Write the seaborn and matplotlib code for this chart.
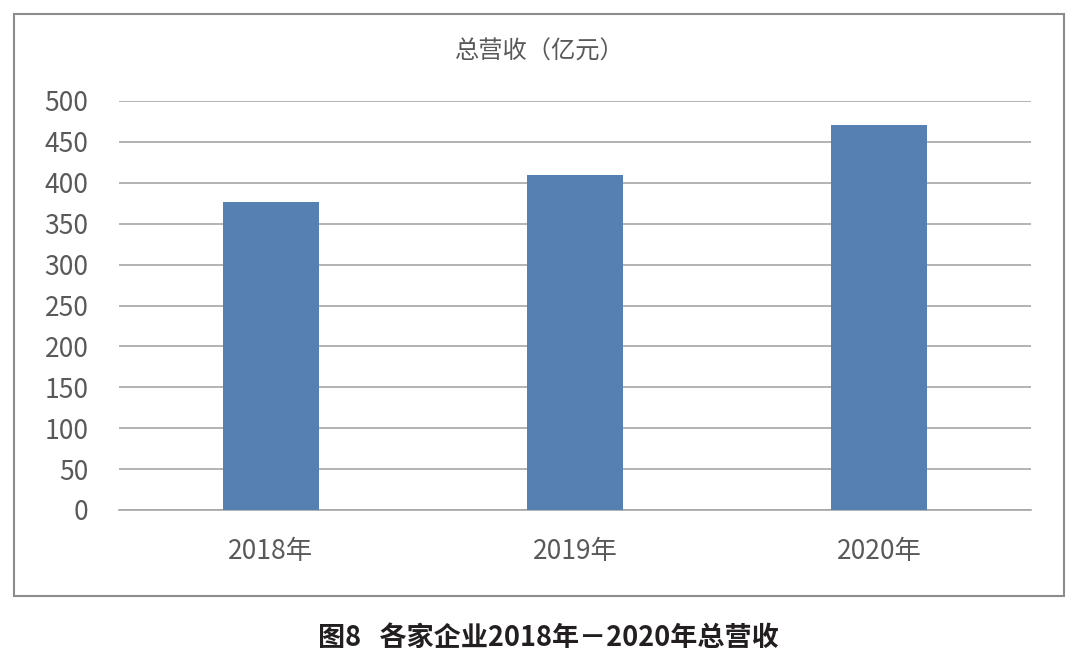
import matplotlib
matplotlib.use('Agg')
import matplotlib.pyplot as plt
import seaborn as sns
import pandas as pd
from matplotlib.patches import Rectangle

years = ['2018年', '2019年', '2020年']
revenue = [377, 410, 471]
yticks = [0, 50, 100, 150, 200, 250, 300, 350, 400, 450, 500]
chart_title = '总营收（亿元）'
caption = '图8   各家企业2018年－2020年总营收'

sns.set_theme(style='white')
plt.rcParams['font.family'] = ['Noto Sans CJK SC', 'DejaVu Sans']

df = pd.DataFrame({'year': years, 'revenue': revenue})

fig = plt.figure(figsize=(10.8, 6.68), dpi=100)
ax = fig.add_axes([119 / 1080, 1 - 510 / 668, 912 / 1080, 409 / 668])

sns.barplot(data=df, x='year', y='revenue', color='#5680b2', width=0.316,
            saturation=1, linewidth=0, ax=ax, zorder=3)

ax.set_ylim(0, 500)
ax.set_yticks(yticks)
ax.set_yticklabels([str(t) for t in yticks], fontsize=19, color='#595959',
                   fontweight='light')
ax.set_xticks(range(len(years)))
ax.set_xticklabels(years, fontsize=19, color='#595959', fontweight='light')
ax.set_xlim(-0.5, 2.5)
ax.tick_params(axis='y', length=0, pad=22)
ax.tick_params(axis='x', length=0, pad=20)
ax.set_xlabel('')
ax.set_ylabel('')
ax.yaxis.grid(True, color='#a6a6a6', linewidth=1.2, zorder=0)
ax.set_axisbelow(True)
for side in ['top', 'right', 'left']:
    ax.spines[side].set_visible(False)
ax.spines['bottom'].set_color('#a6a6a6')
ax.spines['bottom'].set_linewidth(1.2)

fig.text(540 / 1080, 1 - 52 / 668, chart_title, ha='center', va='center',
         fontsize=17.5, color='#595959', fontweight='light')
fig.text(548 / 1080, 1 - 638 / 668, caption, ha='center', va='center',
         fontsize=19.5, fontweight='bold', color='#231f20')

frame = Rectangle((14 / 1080, 1 - 596 / 668), 1050 / 1080, 582 / 668,
                  transform=fig.transFigure, fill=False, edgecolor='#8c8c8c',
                  linewidth=1.5)
fig.patches.append(frame)

fig.savefig('out.png', dpi=100, facecolor='white')
